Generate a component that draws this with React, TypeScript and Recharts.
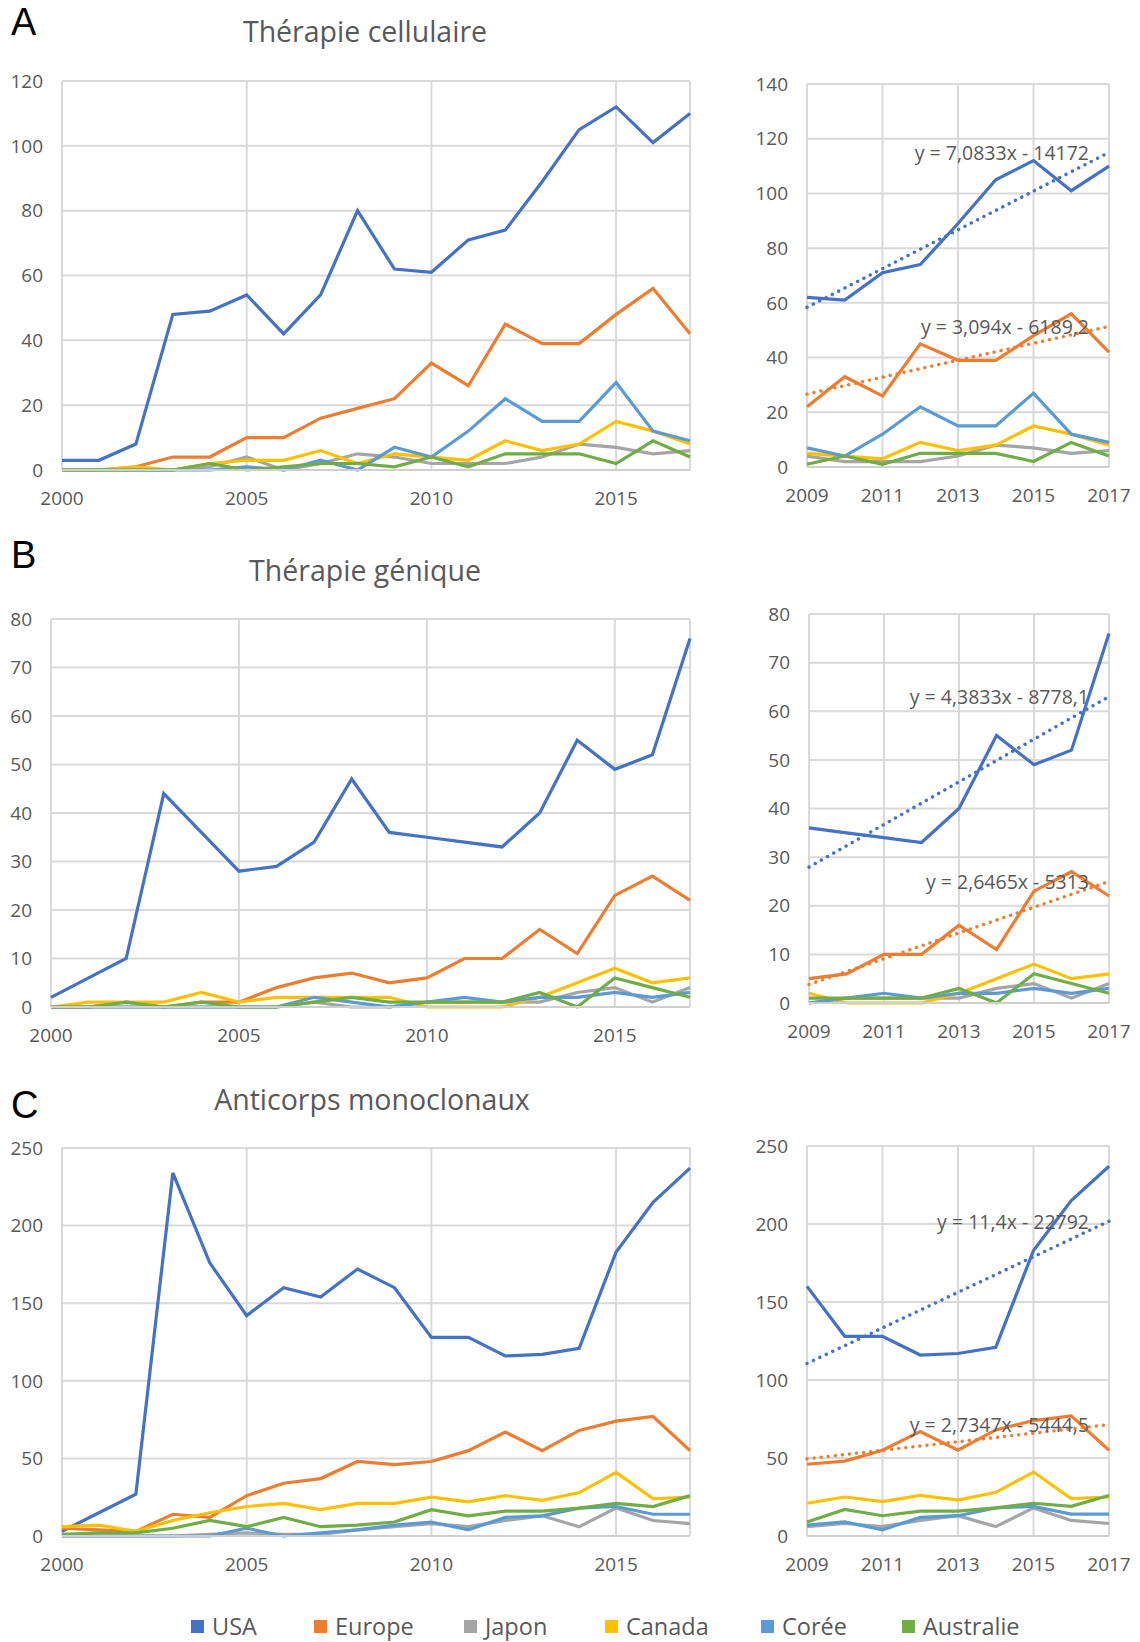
import React from 'react';
import { LineChart, Line, XAxis, YAxis, CartesianGrid } from 'recharts';

// categories
const YEARS = [2000, 2001, 2002, 2003, 2004, 2005, 2006, 2007, 2008, 2009, 2010, 2011, 2012, 2013, 2014, 2015, 2016, 2017];
const COUNTRIES = ['USA', 'Europe', 'Japon', 'Canada', 'Corée', 'Australie'];
const COLORS = ['#4472C4', '#ED7D31', '#A5A5A5', '#FFC000', '#5B9BD5', '#70AD47'];

// A - Thérapie cellulaire
const cellUSA = [3, 3, 8, 48, 49, 54, 42, 54, 80, 62, 61, 71, 74, 89, 105, 112, 101, 110];
const cellEurope = [0, 0, 1, 4, 4, 10, 10, 16, 19, 22, 33, 26, 45, 39, 39, 48, 56, 42];
const cellJapon = [0, 0, 0, 0, 1, 4, 0, 2, 5, 4, 2, 2, 2, 4, 8, 7, 5, 6];
const cellCanada = [0, 0, 1, 0, 2, 3, 3, 6, 2, 5, 4, 3, 9, 6, 8, 15, 12, 8];
const cellCoree = [0, 0, 0, 0, 0, 1, 0, 3, 0, 7, 4, 12, 22, 15, 15, 27, 12, 9];
const cellAustralie = [0, 0, 0, 0, 2, 0, 1, 2, 2, 1, 4, 1, 5, 5, 5, 2, 9, 4];

// B - Thérapie génique
const geneUSA = [2, 6, 10, 44, 36, 28, 29, 34, 47, 36, 35, 34, 33, 40, 55, 49, 52, 76];
const geneEurope = [0, 0, 1, 0, 1, 1, 4, 6, 7, 5, 6, 10, 10, 16, 11, 23, 27, 22];
const geneJapon = [0, 0, 0, 0, 0, 0, 0, 1, 0, 0, 1, 1, 1, 1, 3, 4, 1, 4];
const geneCanada = [0, 1, 1, 1, 3, 1, 2, 2, 2, 2, 0, 0, 0, 2, 5, 8, 5, 6];
const geneCoree = [0, 0, 0, 0, 0, 0, 0, 2, 1, 0, 1, 2, 1, 2, 2, 3, 2, 3];
const geneAustralie = [0, 0, 1, 0, 1, 0, 0, 1, 2, 1, 1, 1, 1, 3, 0, 6, 4, 2];

// C - Anticorps monoclonaux
const mabUSA = [3, 15, 27, 234, 176, 142, 160, 154, 172, 160, 128, 128, 116, 117, 121, 183, 215, 237];
const mabEurope = [5, 4, 3, 14, 12, 26, 34, 37, 48, 46, 48, 55, 67, 55, 68, 74, 77, 55];
const mabJapon = [0, 0, 0, 0, 1, 2, 1, 1, 4, 6, 8, 6, 10, 13, 6, 18, 10, 8];
const mabCanada = [6, 7, 3, 10, 15, 19, 21, 17, 21, 21, 25, 22, 26, 23, 28, 41, 24, 25];
const mabCoree = [0, 0, 0, 0, 0, 5, 0, 2, 4, 7, 9, 4, 12, 13, 18, 19, 14, 14];
const mabAustralie = [1, 2, 2, 5, 10, 6, 12, 6, 7, 9, 17, 13, 16, 16, 18, 21, 19, 26];

// trendline equations shown on the right-hand charts [slope, intercept]
const cellTrendUSA = [7.0833, -14172];
const cellTrendEurope = [3.094, -6189.2];
const geneTrendUSA = [4.3833, -8778.1];
const geneTrendEurope = [2.6465, -5313];
const mabTrendUSA = [11.4, -22792];
const mabTrendEurope = [2.7347, -5444.5];

const cellTrendLabels = ['y = 7,0833x - 14172', 'y = 3,094x - 6189,2'];
const geneTrendLabels = ['y = 4,3833x - 8778,1', 'y = 2,6465x - 5313'];
const mabTrendLabels = ['y = 11,4x - 22792', 'y = 2,7347x - 5444,5'];

const FONT = '"Open Sans", sans-serif';
const TEXT = '#595959';
const GRID = '#D9D9D9';

// left edge of each legend entry
const LEGEND_X = [191, 314, 464, 605, 761, 902];

type Rect = { left: number; top: number; right: number; bottom: number };

const buildRows = (series: number[][], from: number, trends?: number[][]) =>
  YEARS.map((year, i) => {
    const row: Record<string, number> = { year };
    COUNTRIES.forEach((c, k) => (row[c] = series[k][i]));
    if (trends) {
      row.trendUSA = trends[0][0] * year + trends[0][1];
      row.trendEurope = trends[1][0] * year + trends[1][1];
    }
    return row;
  }).filter((r) => r.year >= from);

const endLabel = (text: string, last: number) => (props: any) => {
  if (props.index !== last) return <g />;
  return (
    <text
      x={props.x - 20}
      y={props.y}
      textAnchor="end"
      dominantBaseline="central"
      fill={TEXT}
      fontSize={19.5}
      fontFamily={FONT}
    >
      {text}
    </text>
  );
};

type PanelProps = {
  rows: Record<string, number>[];
  rect: Rect;
  yAxisWidth: number;
  xDomain: [number, number];
  xTicks: number[];
  yMax: number;
  yTicks: number[];
  trendLabels?: string[];
};

const Panel = ({ rows, rect, yAxisWidth, xDomain, xTicks, yMax, yTicks, trendLabels }: PanelProps) => {
  const mt = 16;
  const mr = 32;
  const xh = 50;
  const width = rect.right - rect.left + yAxisWidth + mr;
  const height = rect.bottom - rect.top + mt + xh;
  const tick = { fill: TEXT, fontSize: 19, fontFamily: FONT };
  return (
    <div style={{ position: 'absolute', left: rect.left - yAxisWidth, top: rect.top - mt }}>
      <LineChart width={width} height={height} data={rows} margin={{ top: mt, right: mr, left: 0, bottom: 0 }}>
        <CartesianGrid stroke={GRID} strokeWidth={2} />
        <XAxis
          dataKey="year"
          type="number"
          domain={xDomain}
          ticks={xTicks}
          height={xh}
          tickLine={false}
          tickSize={0}
          tickMargin={22}
          axisLine={{ stroke: '#CFCFCF', strokeWidth: 2 }}
          tick={tick}
          interval={0}
        />
        <YAxis
          width={yAxisWidth}
          domain={[0, yMax]}
          ticks={yTicks}
          axisLine={false}
          tickLine={false}
          tickSize={0}
          tickMargin={19}
          tick={tick}
          interval={0}
        />
        {COUNTRIES.map((c, k) => (
          <Line
            key={c}
            type="linear"
            dataKey={c}
            stroke={COLORS[k]}
            strokeWidth={3.2}
            dot={false}
            isAnimationActive={false}
          />
        ))}
        {trendLabels &&
          ['trendUSA', 'trendEurope'].map((key, k) => (
            <Line
              key={key}
              type="linear"
              dataKey={key}
              stroke={COLORS[k]}
              strokeWidth={3.4}
              strokeDasharray="0.1 7"
              strokeLinecap="round"
              dot={false}
              isAnimationActive={false}
              label={endLabel(trendLabels[k], rows.length - 1)}
            />
          ))}
      </LineChart>
    </div>
  );
};

const PanelLetter = ({ letter, top }: { letter: string; top: number }) => (
  <div
    style={{
      position: 'absolute',
      left: 11,
      top,
      fontFamily: '"Liberation Sans", sans-serif',
      fontSize: 38,
      color: '#000',
    }}
  >
    {letter}
  </div>
);

const Title = ({ text, cx, cy }: { text: string; cx: number; cy: number }) => (
  <div
    style={{
      position: 'absolute',
      left: cx,
      top: cy,
      transform: 'translate(-50%, -50%)',
      fontFamily: FONT,
      fontSize: 28.5,
      lineHeight: 1.2,
      color: TEXT,
      whiteSpace: 'nowrap',
    }}
  >
    {text}
  </div>
);

const LEFT_TICKS = [2000, 2005, 2010, 2015];
const RIGHT_TICKS = [2009, 2011, 2013, 2015, 2017];

export default function App() {
  const cell = [cellUSA, cellEurope, cellJapon, cellCanada, cellCoree, cellAustralie];
  const gene = [geneUSA, geneEurope, geneJapon, geneCanada, geneCoree, geneAustralie];
  const mab = [mabUSA, mabEurope, mabJapon, mabCanada, mabCoree, mabAustralie];

  return (
    <div
      style={{
        position: 'absolute',
        left: 0,
        top: 0,
        width: 1140,
        height: 1642,
        background: '#fff',
        overflow: 'hidden',
      }}
    >
      <PanelLetter letter="A" top={1} />
      <Title text="Thérapie cellulaire" cx={365} cy={31} />
      <Panel
        rows={buildRows(cell, 2000)}
        rect={{ left: 62, top: 81, right: 690, bottom: 470 }}
        yAxisWidth={62}
        xDomain={[2000, 2017]}
        xTicks={LEFT_TICKS}
        yMax={120}
        yTicks={[0, 20, 40, 60, 80, 100, 120]}
      />
      <Panel
        rows={buildRows(cell, 2009, [cellTrendUSA, cellTrendEurope])}
        rect={{ left: 807, top: 84, right: 1109, bottom: 467 }}
        yAxisWidth={70}
        xDomain={[2009, 2017]}
        xTicks={RIGHT_TICKS}
        yMax={140}
        yTicks={[0, 20, 40, 60, 80, 100, 120, 140]}
        trendLabels={cellTrendLabels}
      />

      <PanelLetter letter="B" top={534} />
      <Title text="Thérapie génique" cx={365} cy={570} />
      <Panel
        rows={buildRows(gene, 2000)}
        rect={{ left: 51, top: 619, right: 690, bottom: 1007 }}
        yAxisWidth={51}
        xDomain={[2000, 2017]}
        xTicks={LEFT_TICKS}
        yMax={80}
        yTicks={[0, 10, 20, 30, 40, 50, 60, 70, 80]}
      />
      <Panel
        rows={buildRows(gene, 2009, [geneTrendUSA, geneTrendEurope])}
        rect={{ left: 809, top: 614, right: 1109, bottom: 1003 }}
        yAxisWidth={70}
        xDomain={[2009, 2017]}
        xTicks={RIGHT_TICKS}
        yMax={80}
        yTicks={[0, 10, 20, 30, 40, 50, 60, 70, 80]}
        trendLabels={geneTrendLabels}
      />

      <PanelLetter letter="C" top={1084} />
      <Title text="Anticorps monoclonaux" cx={372} cy={1099} />
      <Panel
        rows={buildRows(mab, 2000)}
        rect={{ left: 62, top: 1148, right: 690, bottom: 1536 }}
        yAxisWidth={62}
        xDomain={[2000, 2017]}
        xTicks={LEFT_TICKS}
        yMax={250}
        yTicks={[0, 50, 100, 150, 200, 250]}
      />
      <Panel
        rows={buildRows(mab, 2009, [mabTrendUSA, mabTrendEurope])}
        rect={{ left: 807, top: 1146, right: 1109, bottom: 1536 }}
        yAxisWidth={70}
        xDomain={[2009, 2017]}
        xTicks={RIGHT_TICKS}
        yMax={250}
        yTicks={[0, 50, 100, 150, 200, 250]}
        trendLabels={mabTrendLabels}
      />

      {/* shared legend */}
      {COUNTRIES.map((c, k) => (
        <div
          key={c}
          style={{
            position: 'absolute',
            left: LEGEND_X[k],
            top: 1612,
            height: 29,
            display: 'flex',
            alignItems: 'center',
            gap: 8,
            fontFamily: FONT,
            fontSize: 23.5,
            lineHeight: 1,
            color: TEXT,
          }}
        >
          <span style={{ width: 13, height: 13, background: COLORS[k], display: 'inline-block' }} />
          <span>{c}</span>
        </div>
      ))}
    </div>
  );
}
